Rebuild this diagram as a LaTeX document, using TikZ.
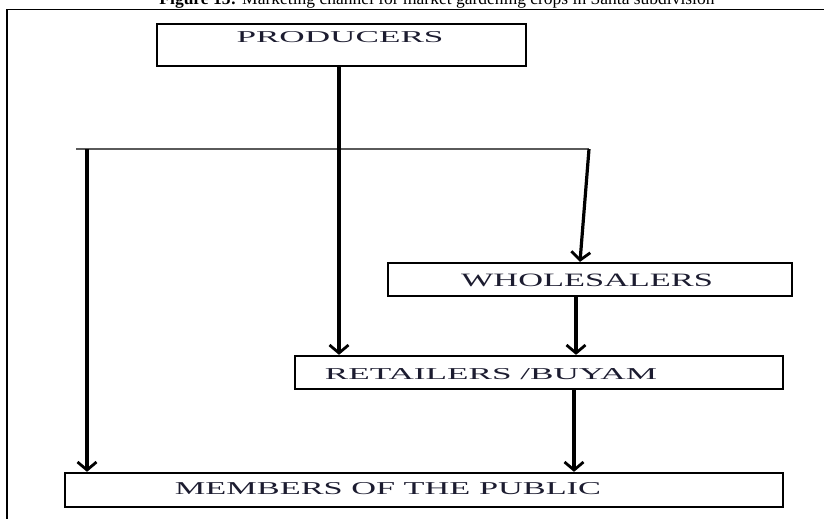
\documentclass[tikz,border=0pt]{standalone}
\usepackage{fontspec}
\setmainfont{Liberation Serif}
\usetikzlibrary{arrows.meta}
\definecolor{labcol}{RGB}{28,28,48}
\definecolor{hlinecol}{RGB}{90,90,90}
\newcommand{\boxlab}[3]{\resizebox{#1}{#2}{#3}}
\begin{document}
\begin{tikzpicture}[x=1pt,y=-1pt,
  boxnode/.style={draw=black,line width=2.3pt,minimum width=#1,inner sep=0pt},
  labnode/.style={anchor=base,inner sep=0pt,text=labcol},
  arr/.style={draw=black,line width=3.2pt,-{Straight Barb[length=8pt,width=19pt,line width=2.8pt]}},
  frameline/.style={draw=black,line width=1.6pt}]
\clip (0,0) rectangle (824,519);
% title (cut at the top edge, as in the reference)
\node[anchor=base,inner sep=0pt] (title) at (437,4.5) {\resizebox{555pt}{!}{\textbf{Figure 15:} Marketing channel for market gardening crops in Santa subdivision}};
% frame
\coordinate (ftl) at (7,9.5);
\coordinate (ftr) at (830,9.5);
\coordinate (fbl) at (7,525);
\draw[frameline] (ftr) -- (ftl) -- (fbl);
% boxes
\node[boxnode=369pt,minimum height=42pt] (prod) at (341.5,45) {};
\node[boxnode=404pt,minimum height=33pt] (whole) at (590,279.5) {};
\node[boxnode=488pt,minimum height=33pt] (ret) at (539,372.5) {};
\node[boxnode=718pt,minimum height=34pt] (pub) at (424,490) {};
% labels
\node[labnode] (lprod) at (340,43) {\boxlab{207pt}{11pt}{PRODUCERS}};
\node[labnode] (lwhole) at (587,286) {\boxlab{252pt}{12.5pt}{WHOLESALERS}};
\node[labnode] (lret) at (491,379) {\boxlab{332pt}{11pt}{RETAILERS /BUYAM}};
\node[labnode] (lpub) at (388,494) {\boxlab{426pt}{12pt}{MEMBERS OF THE PUBLIC}};
% helper coordinates
\coordinate (hl) at (76,149);
\coordinate (hr) at (589,149);
\coordinate (cl) at (87,149);
\coordinate (cm) at (339,0);
\coordinate (cw) at (580,0);
\coordinate (cw2) at (576,0);
\coordinate (cr) at (574,0);
% horizontal distribution line
\draw[draw=hlinecol,line width=1.8pt] (hl) -- (hr);
% connectors
\draw[arr] (prod.south -| cm) -- (ret.north -| cm);
\draw[arr] (cl) -- (pub.north -| cl);
\draw[arr] (hr) -- (whole.north -| cw);
\draw[arr] (whole.south -| cw2) -- (ret.north -| cw2);
\draw[arr] (ret.south -| cr) -- (pub.north -| cr);
\end{tikzpicture}
\end{document}
